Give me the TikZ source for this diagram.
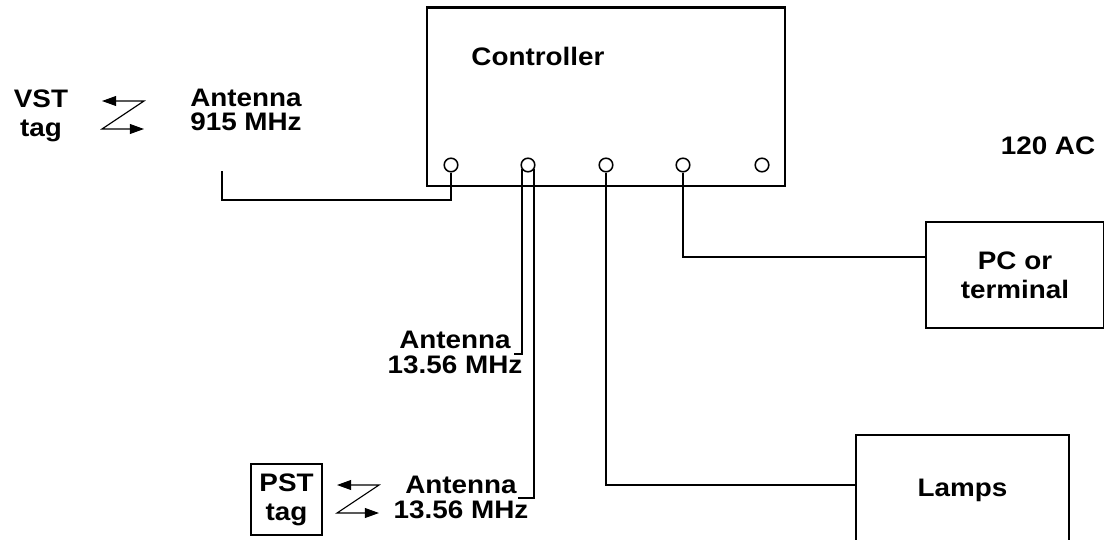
\documentclass[tikz,border=0pt]{standalone}
\usepackage{fontspec}
\setmainfont{Liberation Sans}[FakeStretch=1.1]
\usetikzlibrary{arrows.meta}
\newcommand{\lbl}{\fontsize{18}{17.5}\selectfont\bfseries}
\newcommand{\lblwide}{\fontsize{18}{20.5}\selectfont\bfseries}
\begin{document}
\begin{tikzpicture}[x=0.025cm,y=-0.025cm,line width=1.6pt,
  every node/.style={font=\lbl,align=center,inner sep=0pt},
  port/.style={draw,circle,minimum size=0.34cm,line width=1.1pt},
  unitbox/.style={draw,line width=1.6pt},
  zlink/.style={line width=0.8pt,{Triangle[length=10pt,width=7pt]}-{Triangle[length=10pt,width=7pt]}}]
  \useasboundingbox (0,0) rectangle (1104,539);

  % controller with its five ports
  \node[unitbox,minimum width=8.95cm,minimum height=4.45cm] (ctrl) at (606,96.6) {};
  \node (ctrllbl) at (538,56) {Controller};
  \foreach \n/\x in {1/451,2/528,3/606,4/683,5/762}
    \node[port] (p\n) at (\x,165) {};

  % other units
  \node[unitbox,minimum width=4.45cm,minimum height=2.65cm,font=\lblwide] (pc) at (1015,275) {PC or\\terminal};
  \node[unitbox,minimum width=5.325cm,minimum height=2.75cm] (lamps) at (962.5,490) {Lamps};
  \node[unitbox,minimum width=1.775cm,minimum height=1.78cm,font=\lblwide] (pst) at (286.5,499.5) {PST\\tag};
  \node (ac) at (1048,146) {120 AC};

  % tags and antennas
  \node[font=\lblwide] (vst) at (41,116) {VST\\tag};
  \node (ant915) at (246,110) {Antenna\\915 MHz};
  \node (antA) at (455,352.5) {Antenna\\13.56 MHz};
  \node (antB) at (461,497.5) {Antenna\\13.56 MHz};

  % free wire ends
  \coordinate (w915) at (222,171);
  \coordinate (wA) at (514,354);
  \coordinate (wB) at (518,498);

  % wiring
  \draw (p1.south) -- (p1.south |- 0,200) -| (w915);
  \draw (p2.-145) |- (wA);
  \draw (p2.-35) |- (wB);
  \draw (p3.south) |- (lamps.west |- 0,485);
  \draw (p4.south) |- (pc.west |- 0,257);

  % radio links
  \draw[zlink] (102,101) -- (144,101) -- (102,129) -- (144,129);
  \draw[zlink] (337,485) -- (379,485) -- (337,513) -- (379,513);
\end{tikzpicture}
\end{document}
